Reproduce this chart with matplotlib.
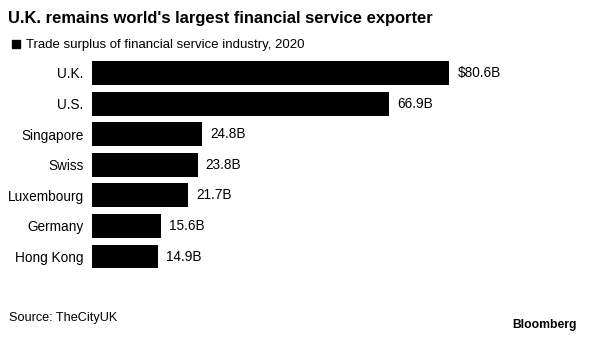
import matplotlib.pyplot as plt
from matplotlib.patches import Rectangle

plt.rcParams['font.family'] = ['Liberation Sans', 'DejaVu Sans']

countries = ["U.K.", "U.S.", "Singapore", "Swiss", "Luxembourg", "Germany", "Hong Kong"]
surplus = [80.6, 66.9, 24.8, 23.8, 21.7, 15.6, 14.9]
labels = ["$80.6B", "66.9B", "24.8B", "23.8B", "21.7B", "15.6B", "14.9B"]

W, H = 592, 345
fig = plt.figure(figsize=(W / 100, H / 100), dpi=100)

ax = fig.add_axes([92 / W, (H - 271.8) / H, 399 / W, 214.1 / H])
pos = range(len(countries))
ax.barh(pos, surplus, height=0.78, color="black")
ax.set_xlim(0, 90)
ax.set_ylim(len(countries) - 0.5, -0.5)
ax.set_yticks(list(pos))
ax.set_yticklabels(countries, fontsize=9.8)
ax.tick_params(axis="y", length=0, pad=6)
ax.set_xticks([])
for s in ax.spines.values():
    s.set_visible(False)

for i, (v, lab) in enumerate(zip(surplus, labels)):
    ax.annotate(lab, (v, i), xytext=(6, 0), textcoords="offset points",
                va="center", ha="left", fontsize=9.8)

# title and legend
fig.text(8 / W, 1 - 18 / H, "U.K. remains world's largest financial service exporter",
         fontsize=11.9, fontweight="bold", va="center", ha="left")
fig.patches.append(Rectangle((12 / W, 1 - 48 / H), 8 / W, 8 / H,
                             transform=fig.transFigure, color="black"))
fig.text(26 / W, 1 - 45 / H, "Trade surplus of financial service industry, 2020",
         fontsize=9.5, va="center", ha="left")

# footer
fig.text(9 / W, 1 - 318 / H, "Source: TheCityUK", fontsize=9.1, va="center", ha="left")
fig.text(577 / W, 1 - 325 / H, "Bloomberg", fontsize=8.7, fontweight="bold",
         va="center", ha="right")

fig.savefig("out.png", dpi=100)
